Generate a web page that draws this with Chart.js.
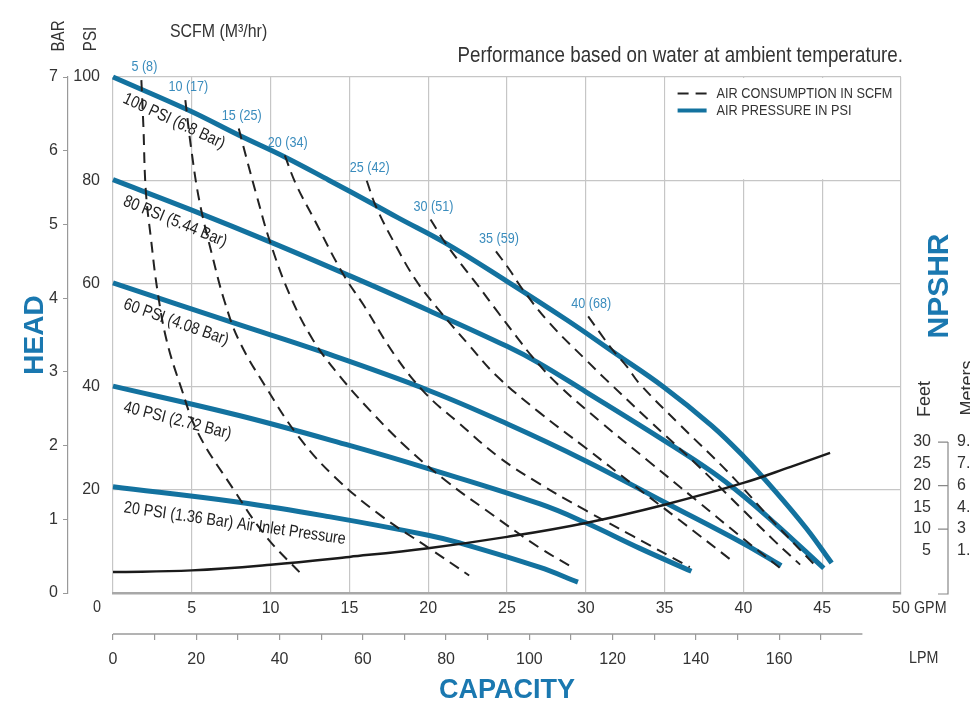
<!DOCTYPE html>
<html>
<head>
<meta charset="utf-8">
<script src="https://cdn.jsdelivr.net/npm/chart.js@4.4.1/dist/chart.umd.min.js"></script>
<style>
  html, body { margin: 0; padding: 0; background: #fff; }
  #wrap { width: 970px; height: 712px; position: relative; }
</style>
</head>
<body>
<div id="wrap"><canvas id="pumpChart"></canvas></div>
<script>
// Head (PSI) vs capacity (GPM) at each air inlet pressure
const psi100 = [[0, 100], [4.84, 93.5], [8, 88.7], [10.9, 84.5], [13.7, 80], [16.5, 75.4], [18.1, 72.7], [21.1, 67.8], [25, 60.4], [28.8, 52.9], [31.7, 46.8], [35, 39.8], [38, 32.4], [40, 26.5], [42, 19.8], [44, 12.5], [45.6, 5.8]];
const psi80 = [[0, 80.1], [5, 74.2], [10, 68], [15, 61.5], [20, 54.8], [25, 47.8], [27, 44.6], [30, 39], [35, 29.5], [38, 23.5], [40, 18.8], [42, 13.5], [45.1, 4.8]];
const psi60 = [[0, 60.1], [8, 52], [13, 47], [20, 39.3], [25, 32.8], [30, 25.6], [35, 17.6], [40, 9.6], [42.4, 5.3]];
const psi40 = [[0, 40.1], [8, 34.4], [15, 28.6], [20, 24.1], [27.05, 17.3], [30, 13.6], [33.4, 8.7], [36.7, 4.2]];
const psi20 = [[0, 20.6], [8, 17.6], [13.7, 14.8], [20, 11.2], [22, 9.7], [27.05, 5.0], [29.5, 2.1]];
const pressureCurves = [psi100, psi80, psi60, psi40, psi20];
const pressureLabels = ['100 PSI (6.8 Bar)', '80 PSI (5.44 Bar)', '60 PSI (4.08 Bar)', '40 PSI (2.72 Bar)', '20 PSI (1.36 Bar) Air Inlet Pressure'];

// Air consumption lines, SCFM (M3/hr)
const scfm5 = [[1.8, 99.4], [1.93, 90.3], [2.08, 78], [2.4, 68.9], [2.82, 58.6], [3.4, 49], [4.3, 40], [5.4, 31], [7.6, 20.3], [9.7, 11], [12, 3.5]];
const scfm10 = [[4.59, 95.5], [4.95, 86.4], [5.48, 76], [6.33, 65], [7.07, 56.6], [8, 48.9], [9.7, 39.9], [11.8, 30.2], [14.1, 22.4], [17, 15], [20, 8.8], [22.6, 3.4]];
const scfm15 = [[7.98, 90], [8.45, 84.5], [9.09, 77.3], [9.94, 68.3], [11.2, 57.9], [12.7, 49], [14.4, 42], [16.3, 35.4], [18.6, 28.3], [21.1, 21.8], [23.7, 16], [27, 8.9], [29.2, 4.9]];
const scfm20 = [[10.9, 84.8], [11.6, 79.3], [12.7, 72.8], [14.6, 61.8], [15.9, 55.8], [17.9, 46], [19.85, 38.6], [22, 32.8], [24.5, 26.3], [27.05, 21.2], [30, 16], [33, 11], [36.6, 5]];
const scfm25 = [[16.1, 79.9], [16.7, 74.8], [18, 67], [19.2, 60.7], [20.5, 55.5], [22.6, 48], [24.3, 42.2], [27.05, 35], [30, 28.1], [33, 21], [36, 14], [39.3, 6.2]];
const scfm30 = [[20.15, 72.4], [21.1, 67.8], [22.2, 63.3], [23.2, 59.4], [24.3, 54.9], [25.6, 49.7], [26.6, 45.8], [28.2, 40.5], [31, 33], [34, 25.5], [37, 18], [40, 10.5], [42.3, 4.9]];
const scfm35 = [[24.3, 66.2], [25.15, 62.7], [26, 58.8], [27.7, 52.3], [30, 45.2], [31.3, 41.3], [34, 33.5], [37, 25], [40, 16], [42, 10], [43.6, 5.5]];
const scfm40 = [[30.15, 53.6], [30.9, 50.4], [31.7, 47.1], [32.6, 43.9], [33.4, 40.6], [36, 32.5], [39, 23.5], [42, 13.5], [44.5, 5.5]];
const scfmLines = [scfm5, scfm10, scfm15, scfm20, scfm25, scfm30, scfm35, scfm40];
const scfmLabels = ['5 (8)', '10 (17)', '15 (25)', '20 (34)', '25 (42)', '30 (51)', '35 (59)', '40 (68)'];

// NPSHR in feet
const npshrFeet = [[0, 0.1], [5, 0.5], [10, 1.8], [15, 3.6], [20, 5.6], [25, 8.2], [30, 11.4], [35, 15.6], [40, 20.6], [43, 24.3], [45.5, 27.5]];
const feetTicks = [5, 10, 15, 20, 25, 30];
const meterTicks = ['1.5', '3', '4.6', '6', '7.6', '9.1'];
const lpmLastTick = 180;

const BLUE = '#13729f';
const TITLE_BLUE = '#1a78b0';
const LABEL_BLUE = '#3a8cbd';
const GRID = '#c6c6c6';
const FONT = '"Liberation Sans", Arial, sans-serif';
const NARROW = 0.84; // the original lettering is a condensed face
const GPM_TO_LPM = 3.78541;

Chart.defaults.font.family = FONT;
Chart.defaults.color = '#333';

const toXY = pts => pts.map(([x, y]) => ({ x, y }));

const datasets = [];
datasets.push({
    label: 'NPSHR',
    data: toXY(npshrFeet),
    borderColor: '#1b1b1b',
    borderWidth: 2.5,
    pointRadius: 0,
    tension: 0.4,
    yAxisID: 'ft',
    order: 0
});
scfmLines.forEach((pts, i) => {
    datasets.push({
        label: scfmLabels[i],
        data: toXY(pts),
        borderColor: '#222',
        borderWidth: 2,
        borderDash: [11, 7],
        pointRadius: 0,
        tension: 0.4,
        yAxisID: 'y',
        order: 1
    });
});
pressureCurves.forEach((pts, i) => {
    datasets.push({
        label: pressureLabels[i],
        data: toXY(pts),
        borderColor: BLUE,
        borderWidth: 5,
        pointRadius: 0,
        tension: 0.4,
        yAxisID: 'y',
        clip: 6,
        order: 2
    });
});

function txt(ctx, s, x, y, font, color, align, rot, sx) {
    ctx.save();
    ctx.translate(x, y);
    if (rot) ctx.rotate(rot);
    ctx.scale(sx || NARROW, 1);
    ctx.font = font;
    ctx.fillStyle = color;
    ctx.textAlign = align || 'left';
    ctx.textBaseline = 'middle';
    ctx.fillText(s, 0, 0);
    ctx.restore();
}

const decorations = {
    id: 'decorations',
    beforeDatasetsDraw(chart) {
        // legend cell hides the grid behind it
        const { ctx, scales: { x, y } } = chart;
        const l = x.getPixelForValue(35), r = x.getPixelForValue(50);
        const t = y.getPixelForValue(100), b = y.getPixelForValue(80);
        ctx.save();
        ctx.fillStyle = '#fff';
        ctx.fillRect(l + 1, t + 1, r - l - 2, b - t - 2);
        ctx.restore();
    },
    afterDraw(chart) {
        const { ctx, chartArea, scales: { x, y, lpm, ft } } = chart;
        const f = (size, w) => (w || '') + ' ' + size + 'px ' + FONT;

        // legend
        const lx = x.getPixelForValue(35), ly = y.getPixelForValue(100);
        ctx.save();
        ctx.strokeStyle = '#222';
        ctx.lineWidth = 2.2;
        ctx.setLineDash([11, 7]);
        ctx.beginPath(); ctx.moveTo(lx + 13, ly + 16.5); ctx.lineTo(lx + 42, ly + 16.5); ctx.stroke();
        ctx.setLineDash([]);
        ctx.strokeStyle = BLUE;
        ctx.lineWidth = 4;
        ctx.beginPath(); ctx.moveTo(lx + 13, ly + 33.5); ctx.lineTo(lx + 42, ly + 33.5); ctx.stroke();
        ctx.restore();
        txt(ctx, 'AIR CONSUMPTION IN SCFM', lx + 52, ly + 16.5, f(15.5), '#333', 'left', 0, 0.82);
        txt(ctx, 'AIR PRESSURE IN PSI', lx + 52, ly + 34, f(15.5), '#333', 'left', 0, 0.82);

        // labels on the pressure curves
        pressureCurves.forEach((pts, i) => {
            const x0 = x.getPixelForValue(pts[0][0]), y0 = y.getPixelForValue(pts[0][1]);
            const x1 = x.getPixelForValue(pts[1][0]), y1 = y.getPixelForValue(pts[1][1]);
            const ang = Math.atan2(y1 - y0, x1 - x0) + 0.02;
            txt(ctx, pressureLabels[i], x0 + 11, y0 + 21, f(17), '#222', 'left', ang);
        });

        // labels at the top of the air consumption lines
        scfmLines.forEach((pts, i) => {
            const px = x.getPixelForValue(pts[0][0]) + 3;
            const py = y.getPixelForValue(pts[0][1]) - 13;
            txt(ctx, scfmLabels[i], px, py, f(15), LABEL_BLUE, 'center');
        });

        // LPM axis line
        ctx.save();
        ctx.strokeStyle = '#9a9a9a';
        ctx.lineWidth = 1.5;
        ctx.beginPath();
        ctx.moveTo(lpm.getPixelForValue(0), lpm.top);
        ctx.lineTo(lpm.getPixelForValue(lpmLastTick), lpm.top);
        ctx.stroke();

        // NPSHR bracket
        const bx = ft.right + 17;
        ctx.strokeStyle = '#888';
        ctx.lineWidth = 1.2;
        ctx.beginPath();
        ctx.moveTo(bx, ft.getPixelForValue(30));
        ctx.lineTo(bx, chartArea.bottom + 1);
        ctx.lineTo(bx - 10, chartArea.bottom + 1);
        [30, 20, 10].forEach(v => {
            const py = ft.getPixelForValue(v);
            ctx.moveTo(bx - 10, py);
            ctx.lineTo(bx, py);
        });
        ctx.stroke();
        ctx.restore();

        // titles and units
        txt(ctx, 'Performance based on water at ambient temperature.', chartArea.right + 2, 56, f(22), '#333', 'right', 0, 0.853);
        txt(ctx, 'SCFM (M\u00B3/hr)', 170, 32, f(18.5), '#333', 'left', 0, 0.86);
        txt(ctx, 'BAR', 59, 36, f(18), '#333', 'center', -Math.PI / 2);
        txt(ctx, 'PSI', 91.5, 39, f(18), '#333', 'center', -Math.PI / 2);
        txt(ctx, 'NPSHR', 940, 286, f(30, 'bold'), TITLE_BLUE, 'center', -Math.PI / 2, 1);
        txt(ctx, 'Feet', 925, 399, f(18), '#333', 'center', -Math.PI / 2, 1);
        txt(ctx, 'Meters', 968, 388, f(18), '#333', 'center', -Math.PI / 2, 1);
        txt(ctx, 'GPM', 914, 608, f(17), '#333');
        txt(ctx, 'LPM', 909, 658, f(17), '#333');
        txt(ctx, '0', 97, 608, f(16), '#333', 'center', 0, 0.9);
    }
};

const sameFeetTicks = s => { s.ticks = feetTicks.map(v => ({ value: v })); };

new Chart(document.getElementById('pumpChart'), {
    type: 'line',
    data: { datasets },
    options: {
        responsive: true,
        maintainAspectRatio: false,
        animation: false,
        layout: { padding: { top: 77, left: 0, right: 0, bottom: 0 } },
        plugins: { legend: { display: false }, tooltip: { enabled: false } },
        scales: {
            x: {
                type: 'linear', position: 'bottom', min: 0, max: 50,
                ticks: { stepSize: 5, padding: 6, autoSkip: false, maxRotation: 0, font: { size: 16 }, callback: v => v === 0 ? '' : v },
                grid: { color: GRID, lineWidth: 1.2, drawTicks: false },
                border: { color: '#a8a8a8', width: 2.5 },
                afterFit: s => { s.height = 41; }
            },
            lpm: {
                type: 'linear', position: 'bottom', weight: 1, min: 0, max: 50 * GPM_TO_LPM,
                afterBuildTicks: s => { s.ticks = s.ticks.filter(t => t.value <= lpmLastTick); },
                ticks: { stepSize: 10, padding: 10, autoSkip: false, maxRotation: 0, font: { size: 16 }, callback: v => v % 20 === 0 ? v : '' },
                grid: { drawOnChartArea: false, tickLength: 6, color: '#9a9a9a', lineWidth: 1.2 },
                border: { display: false },
                title: { display: true, text: 'CAPACITY', color: TITLE_BLUE, font: { size: 27, weight: 'bold' }, padding: { top: 0, bottom: 5 } },
                afterFit: s => { s.height = 78; }
            },
            y: {
                position: 'left', min: 0, max: 100,
                ticks: { stepSize: 20, padding: 13, font: { size: 16 }, callback: v => v === 0 ? '' : v },
                grid: { color: GRID, lineWidth: 1.2, drawTicks: false },
                border: { display: false },
                afterFit: s => { s.width = 45; }
            },
            bar: {
                position: 'left', weight: 1, min: 0, max: 7,
                ticks: { stepSize: 1, padding: 5, font: { size: 16 } },
                grid: { drawOnChartArea: false, tickLength: 5, color: '#999' },
                border: { color: '#999', width: 1.2 },
                title: { display: true, text: 'HEAD', color: TITLE_BLUE, font: { size: 28, weight: 'bold' }, padding: { top: 18, bottom: 0 } },
                afterFit: s => { s.width = 68; }
            },
            ft: {
                position: 'right', min: -4.7, max: 113.9,
                afterBuildTicks: sameFeetTicks,
                ticks: { crossAlign: 'far', padding: 0, font: { size: 16 } },
                grid: { display: false, drawTicks: false },
                border: { display: false },
                afterFit: s => { s.width = 30; }
            },
            m: {
                position: 'right', weight: 1, min: -4.7, max: 113.9,
                afterBuildTicks: sameFeetTicks,
                ticks: { padding: 26, font: { size: 16 }, callback: (v, i) => meterTicks[i] },
                grid: { display: false, drawTicks: false },
                border: { display: false },
                afterFit: s => { s.width = 39; }
            }
        }
    },
    plugins: [decorations]
});
</script>
</body>
</html>
